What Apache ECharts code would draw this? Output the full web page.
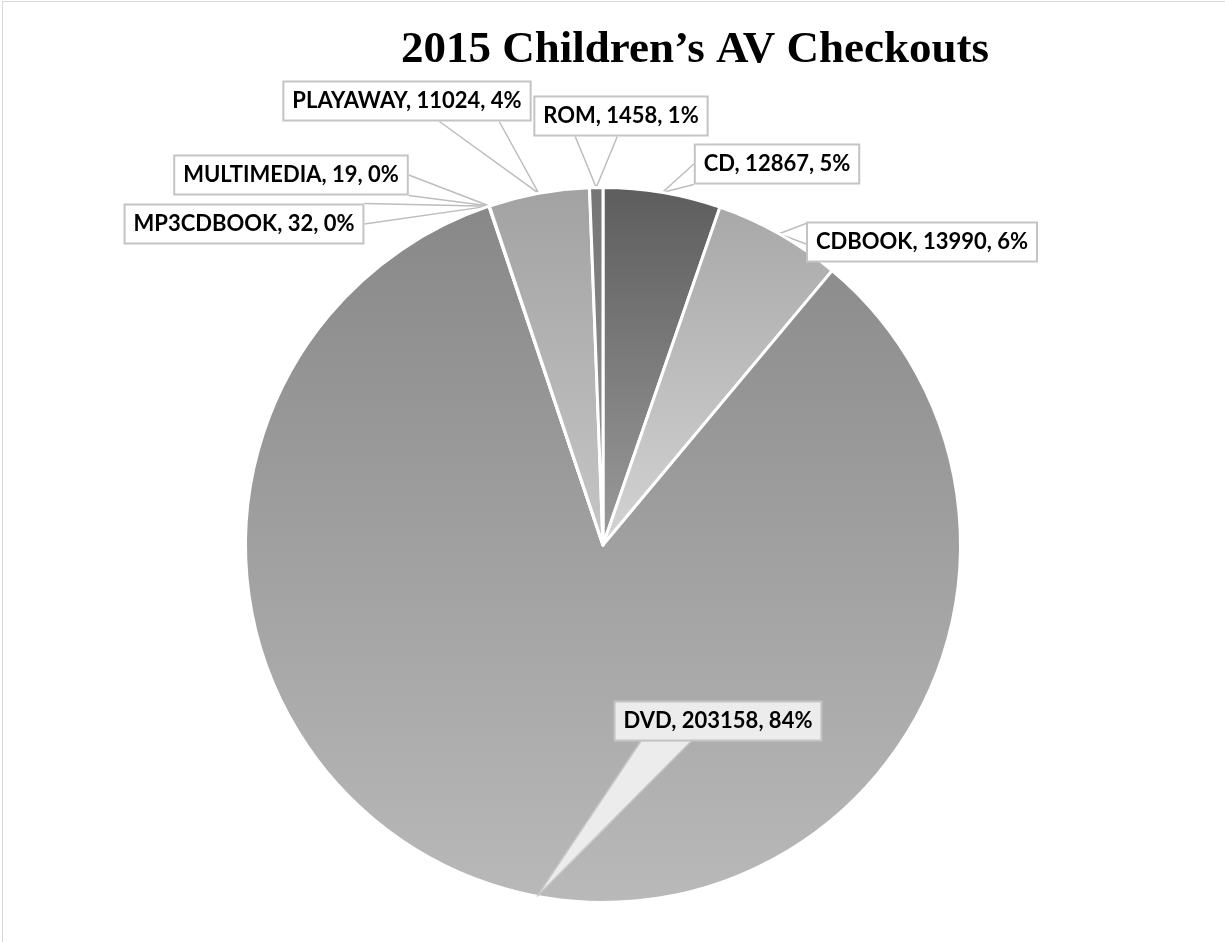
<!DOCTYPE html>
<html>
<head>
<meta charset="utf-8">
<title>2015 Children's AV Checkouts</title>
<script src="https://cdn.jsdelivr.net/npm/echarts@6/dist/echarts.min.js"></script>
<style>
  html, body { margin: 0; padding: 0; background: #fff; }
  .frame { position: absolute; left: 2px; top: 1px; width: 1300px; height: 1000px;
           border-top: 1px solid #d9d9d9; border-left: 1px solid #d9d9d9; }
  #chart { position: absolute; left: 0; top: 0; width: 1225px; height: 942px; }
</style>
</head>
<body>
<div class="frame"></div>
<div id="chart"></div>
<script>
  // data
  var categories = ['CD', 'CDBOOK', 'DVD', 'MP3CDBOOK', 'MULTIMEDIA', 'PLAYAWAY', 'ROM'];
  var checkouts = [12867, 13990, 203158, 32, 19, 11024, 1458];

  // slice gradients (top -> bottom)
  var sliceColors = [
    ['#5d5d5d', '#9b9b9b'],
    ['#a8a8a8', '#d3d3d3'],
    ['#888888', '#b9b9b9'],
    ['#8a8a8a', '#a8a8a8'],
    ['#8a8a8a', '#a8a8a8'],
    ['#a2a2a2', '#c6c6c6'],
    ['#747474', '#9a9a9a']
  ];
  // label box centres, placed by hand like the original
  var labelCenters = [[777, 164], [922, 242], [718, 721], [244, 224], [291, 175], [407, 101], [621, 116]];

  // callout wedge: from box edge to the point on the slice
  function callout(p, r) {
    var dx = Math.max(r.x - p[0], p[0] - (r.x + r.w), 0);
    var dy = Math.max(r.y - p[1], p[1] - (r.y + r.h), 0);
    var a, b, half;
    if (dy >= dx) {
      var ey = p[1] > r.y + r.h ? r.y + r.h : r.y;
      var cx = Math.min(Math.max(p[0], r.x + r.w * 0.25), r.x + r.w * 0.75);
      half = r.w * 0.12;
      a = [cx - half, ey];
      b = [cx + half, ey];
    } else {
      var ex = p[0] > r.x + r.w ? r.x + r.w : r.x;
      var cy = Math.min(Math.max(p[1], r.y + r.h * 0.25), r.y + r.h * 0.75);
      half = r.h * 0.25;
      a = [ex, cy - half];
      b = [ex, cy + half];
    }
    return [a, [p[0], p[1]], b];
  }

  var seriesData = categories.map(function (name, i) {
    return {
      name: name,
      value: checkouts[i],
      itemStyle: {
        color: {
          type: 'linear', x: 0, y: 0, x2: 0, y2: 1,
          colorStops: [{ offset: 0, color: sliceColors[i][0] }, { offset: 1, color: sliceColors[i][1] }]
        }
      },
      label: name === 'DVD' ? { backgroundColor: '#ececec' } : {}
    };
  });

  var chart = echarts.init(document.getElementById('chart'));
  chart.setOption({
    animation: false,
    title: {
      text: '2015 Children\u2019s AV Checkouts',
      left: 690,
      top: 23,
      textAlign: 'center',
      textStyle: {
        fontFamily: 'Liberation Serif',
        fontSize: 45,
        fontWeight: 'bold',
        color: '#000'
      }
    },
    series: [{
      type: 'pie',
      center: [603, 545],
      radius: 357.5,
      startAngle: 90,
      clockwise: true,
      percentPrecision: 0,
      avoidLabelOverlap: false,
      itemStyle: {
        borderColor: '#fff',
        borderWidth: 3
      },
      label: {
        show: true,
        position: 'outside',
        formatter: '{b}, {c}, {d}%',
        fontFamily: 'Lato',
        fontSize: 22,
        fontWeight: 'bold',
        color: '#000',
        backgroundColor: '#fff',
        borderColor: '#c4c4c4',
        borderWidth: 2,
        padding: [8, 8, 7, 8]
      },
      labelLine: {
        show: true,
        length: 10,
        length2: 10,
        lineStyle: {
          color: '#bdbdbd',
          width: 1.5
        }
      },
      labelLayout: function (params) {
        var c = labelCenters[params.dataIndex];
        var w = params.labelRect.width, h = params.labelRect.height;
        var box = { x: c[0] - w / 2, y: c[1] - h / 2, w: w, h: h };
        var res = { x: c[0], y: c[1], align: 'center', verticalAlign: 'middle' };
        if (params.labelLinePoints) {
          res.labelLinePoints = callout(params.labelLinePoints[0], box);
        }
        return res;
      },
      emphasis: { disabled: true },
      data: seriesData
    }]
  });

  // fill the DVD callout wedge and lift it above the slices
  try {
    var dvdEl = chart.getModel().getSeriesByIndex(0).getData().getItemGraphicEl(2);
    var guide = dvdEl && dvdEl.getTextGuideLine();
    if (guide) {
      guide.z2 = 50;
      guide.setStyle('fill', '#ececec');
      guide.setStyle('stroke', '#c8c8c8');
      guide.markRedraw();
      chart.getZr().refreshImmediately();
    }
  } catch (e) {}
</script>
</body>
</html>
